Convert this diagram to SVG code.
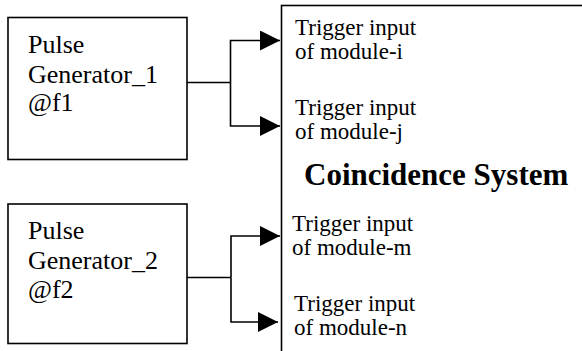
<svg xmlns="http://www.w3.org/2000/svg" width="582" height="351" viewBox="0 0 582 351">
<style>
.box{fill:#fff;stroke:#000;stroke-width:1.6}
.t{font-family:"Liberation Serif","Times New Roman",serif;fill:#000}
.pg{font-size:26px}
.tr{font-size:23px}
.cs{font-size:31px;font-weight:bold}
.wire{fill:none;stroke:#000;stroke-width:1.6}
</style>
<defs>
<marker id="ah" markerUnits="userSpaceOnUse" markerWidth="20" markerHeight="20" refX="20" refY="10" orient="auto" viewBox="0 0 20 20">
<path d="M0,0 L20,10 L0,20 Z" fill="#000"/>
</marker>
</defs>
<g id="coincidence">
<rect class="box" x="281.5" y="5.5" width="400" height="400"/>
<text class="t tr" x="295" y="35">Trigger input</text>
<text class="t tr" x="295" y="59">of module-i</text>
<text class="t tr" x="295" y="115">Trigger input</text>
<text class="t tr" x="295" y="139">of module-j</text>
<text class="t cs" x="304" y="185">Coincidence System</text>
<text class="t tr" x="292" y="231">Trigger input</text>
<text class="t tr" x="292" y="255">of module-m</text>
<text class="t tr" x="294" y="311">Trigger input</text>
<text class="t tr" x="294" y="335">of module-n</text>
</g>
<g id="pg1">
<rect class="box" x="8" y="17.5" width="179" height="142"/>
<text class="t pg" x="28" y="53">Pulse</text>
<text class="t pg" x="28" y="83">Generator_1</text>
<text class="t pg" x="28" y="111">@f1</text>
</g>
<g id="pg2">
<rect class="box" x="8" y="204" width="179" height="139.5"/>
<text class="t pg" x="28" y="239">Pulse</text>
<text class="t pg" x="28" y="269">Generator_2</text>
<text class="t pg" x="28" y="298">@f2</text>
</g>
<g id="connectors">
<polyline class="wire" points="187,82.5 230.5,82.5"/>
<polyline class="wire" points="230.5,82.5 230.5,40.5 280,40.5" marker-end="url(#ah)"/>
<polyline class="wire" points="230.5,82.5 230.5,126 280,126" marker-end="url(#ah)"/>
<polyline class="wire" points="187,277.5 231,277.5"/>
<polyline class="wire" points="231,277.5 231,236 280,236" marker-end="url(#ah)"/>
<polyline class="wire" points="231,277.5 231,322 278,322" marker-end="url(#ah)"/>
</g>
</svg>
